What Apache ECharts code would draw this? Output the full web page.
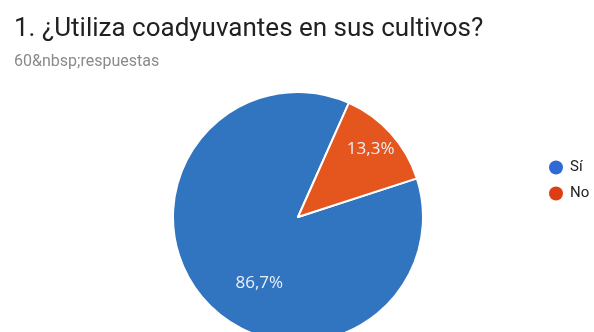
<!DOCTYPE html>
<html>
<head>
<meta charset="utf-8">
<script src="https://cdn.jsdelivr.net/npm/echarts@6/dist/echarts.min.js"></script>
<style>
  html, body { margin: 0; padding: 0; background: #fff; }
  #chart { width: 594px; height: 332px; }
</style>
</head>
<body>
<div id="chart"></div>
<script>
// respuestas
const categories = ['Sí', 'No']
const values = [52, 8]
const labels = ['86,7%', '13,3%']

const chart = echarts.init(document.getElementById('chart'))
const option = {
  animation: false,
  backgroundColor: '#fff',
  title: {
    text: '1. ¿Utiliza coadyuvantes en sus cultivos?',
    subtext: '60&nbsp;respuestas',
    left: 9,
    top: 11,
    itemGap: 12,
    textStyle: { fontFamily: 'Roboto', fontSize: 26, fontWeight: 'normal', color: '#212121' },
    subtextStyle: { fontFamily: 'Roboto', fontSize: 16, color: '#8a8a8a' }
  },
  legend: {
    orient: 'vertical',
    left: 544,
    top: 155,
    icon: 'circle',
    itemWidth: 14,
    itemHeight: 14,
    itemGap: 11,
    itemStyle: { borderWidth: 0 },
    textStyle: { fontFamily: 'Roboto', fontSize: 15, color: '#222', padding: [0, 0, 0, 2] },
    data: [
      { name: 'Sí', itemStyle: { color: '#3169d4' } },
      { name: 'No', itemStyle: { color: '#dc3d14' } }
    ]
  },
  series: [{
    type: 'pie',
    center: [298, 217],
    radius: 125,
    startAngle: 18,
    clockwise: true,
    itemStyle: { borderColor: '#fff', borderWidth: 2 },
    label: {
      show: true,
      position: 'inside',
      fontFamily: 'Open Sans',
      fontSize: 17,
      color: '#e9f0f9',
      formatter: p => labels[p.dataIndex]
    },
    labelLine: { show: false },
    emphasis: { disabled: true },
    data: categories.map((name, i) => ({
      name,
      value: values[i],
      itemStyle: { color: i === 0 ? '#3174bf' : '#e5561f' },
      label: { offset: i === 0 ? [10, 22] : [24, -24] }
    }))
  }]
}
chart.setOption(option)
</script>
</body>
</html>
